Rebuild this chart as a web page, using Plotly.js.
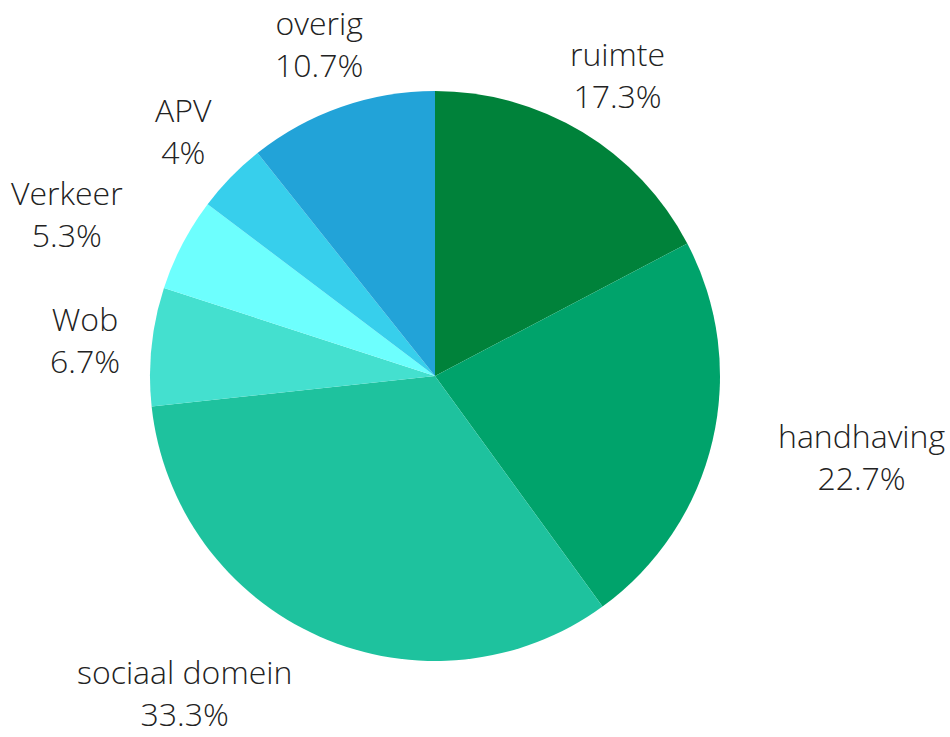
<!DOCTYPE html>
<html>
<head>
<meta charset="utf-8">
<script src="https://cdn.plot.ly/plotly-3.0.1.min.js"></script>
<style>html,body{margin:0;padding:0;background:#fff;}</style>
</head>
<body>
<div id="chart" style="width:950px;height:737px;"></div>
<script>
// data
var categories = ["ruimte", "handhaving", "sociaal domein", "Wob", "Verkeer", "APV", "overig"];
var shares = [17.3, 22.7, 33.3, 6.7, 5.3, 4, 10.7];

// style
var sliceColors = ["#00823a", "#00a36b", "#1ec29e", "#44e0cf", "#6dfffe", "#37cfec", "#22a3d8"];
var labelAnchor = ["center", "left", "right", "center", "right", "center", "center"];
var labelRadius = 0.6175; // relative to plot area (pie diameter = 1)
var fontSize = 32;
var margin = {l: 150, r: 230, t: 91, b: 76};
var plotH = 737 - margin.t - margin.b;
var paperBottom = -margin.b / plotH;
var halfLabel = (2 * 1.3 * fontSize / 2 + 2) / plotH;

var total = shares.reduce(function (a, b) { return a + b; }, 0);
var annotations = [];
var cum = 0;
for (var i = 0; i < shares.length; i++) {
  var mid = (cum + shares[i] / 2) / total * 2 * Math.PI;
  cum += shares[i];
  var pct = Math.round(shares[i] / total * 1000) / 10;
  var y = 0.5 + labelRadius * Math.cos(mid);
  var yanchor = "middle";
  if (y - halfLabel < paperBottom) { y = paperBottom + 2 / plotH; yanchor = "bottom"; }
  annotations.push({
    xref: "paper", yref: "paper",
    x: 0.5 + labelRadius * Math.sin(mid),
    y: y,
    xanchor: labelAnchor[i], yanchor: yanchor,
    align: "center",
    showarrow: false,
    borderpad: 0,
    borderwidth: 0,
    text: categories[i] + "<br>" + pct + "%",
    font: {family: "Open Sans", size: fontSize, color: "#222", weight: 300}
  });
}

Plotly.newPlot("chart", [{
  type: "pie",
  labels: categories,
  values: shares,
  sort: false,
  direction: "clockwise",
  rotation: 0,
  textinfo: "none",
  hoverinfo: "label+percent",
  marker: {colors: sliceColors, line: {width: 0}},
  showlegend: false
}], {
  width: 950,
  height: 737,
  margin: margin,
  paper_bgcolor: "#fff",
  showlegend: false,
  font: {family: "Open Sans", weight: 300},
  annotations: annotations
}, {displayModeBar: false, staticPlot: true});
</script>
</body>
</html>
